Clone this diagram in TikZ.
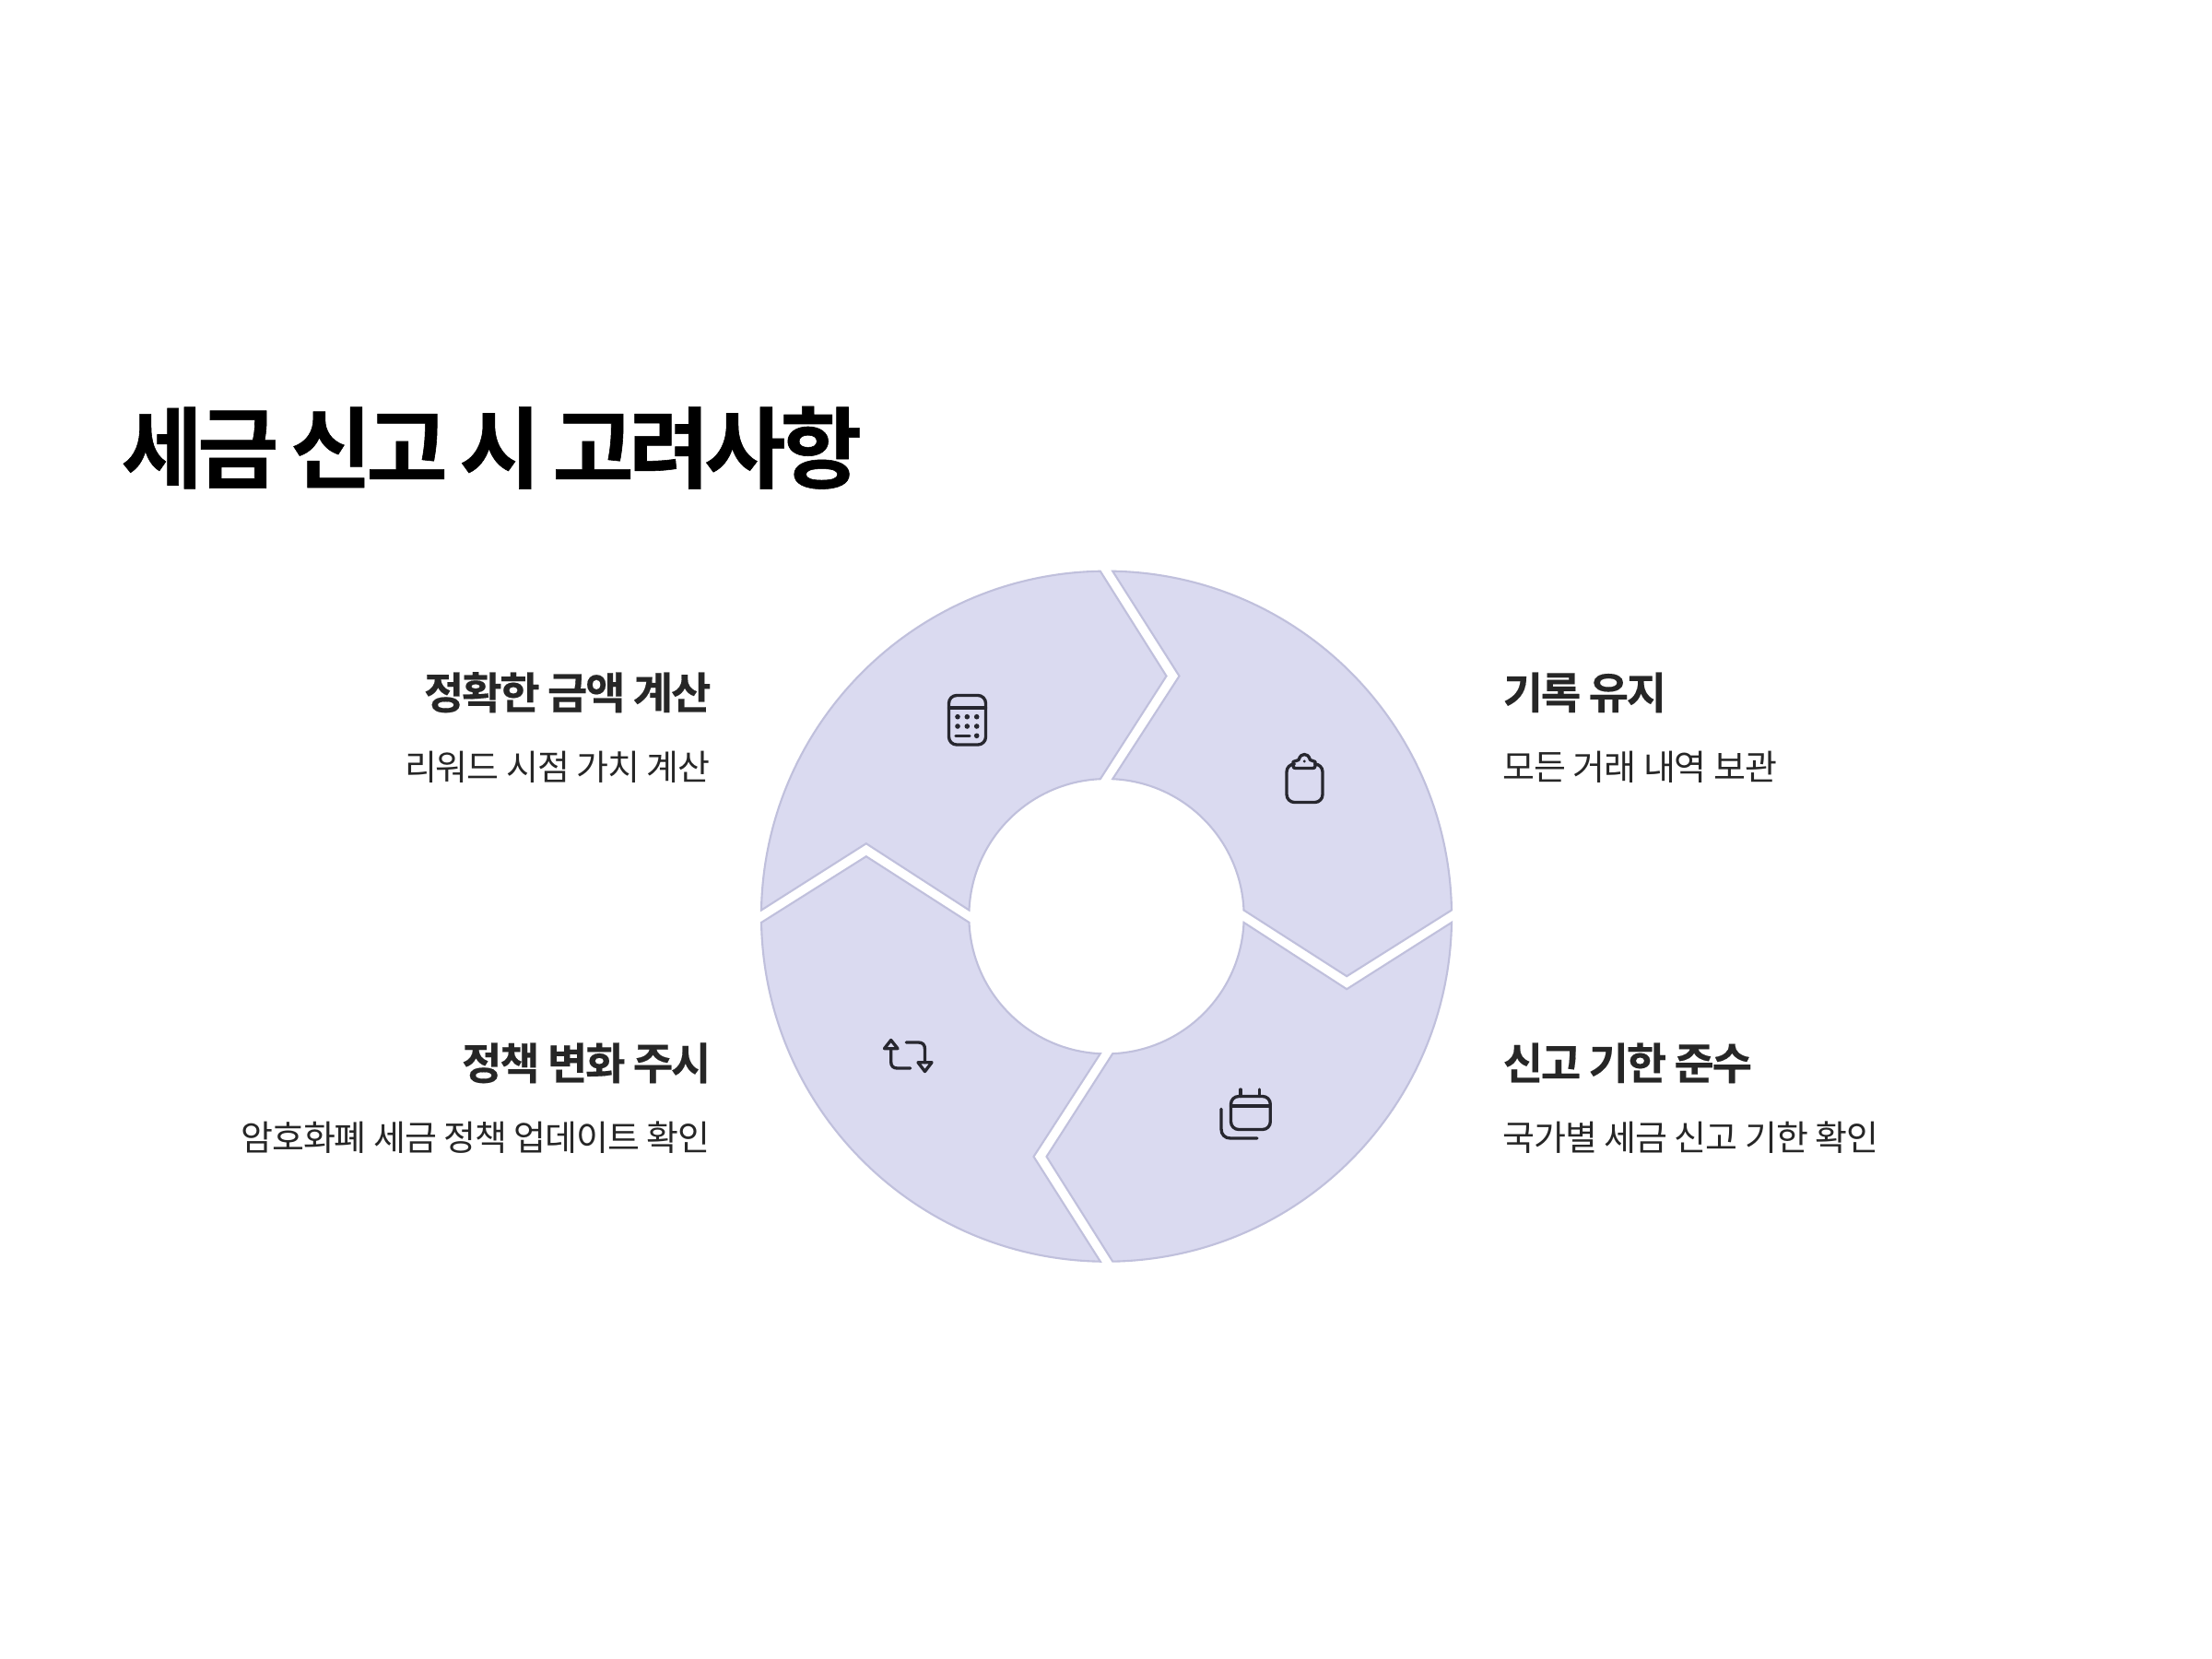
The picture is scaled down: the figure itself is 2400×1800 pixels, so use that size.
\documentclass[tikz,border=0pt]{standalone}
\usepackage{fontspec}
\newfontfamily\krbold[LetterSpace=-6.2,FakeBold=0.6,WordSpace=0.8]{Noto Sans CJK KR Bold}
\newfontfamily\krhead[LetterSpace=-4.8,FakeBold=0.3]{Noto Sans CJK KR Bold}
\newfontfamily\krreg[LetterSpace=-2.9]{Noto Sans CJK KR}
\definecolor{segfill}{HTML}{DADAF0}
\definecolor{segline}{HTML}{C0C0DC}
\definecolor{inkdark}{HTML}{27272F}
\definecolor{headink}{HTML}{262626}
\tikzset{
  segment/.style={fill=segfill,draw=segline,line width=0.6pt,line join=miter},
  icon/.style={draw=inkdark,line width=0.95pt,line cap=round,line join=round},
  icondot/.style={fill=inkdark,draw=none},
  titletext/.style={anchor=base west,inner sep=0pt,font=\krbold\fontsize{27.3pt}{32pt}\selectfont,text=black},
  headtext/.style={inner sep=0pt,font=\krhead\fontsize{13.4pt}{16pt}\selectfont,text=headink},
  desctext/.style={inner sep=0pt,font=\krreg\fontsize{10.8pt}{13pt}\selectfont,text=headink},
}
\begin{document}
\begin{tikzpicture}[x=0.01cm,y=-0.01cm]
\useasboundingbox (0,0) rectangle (2400,1800);
\fill[white] (0,0) rectangle (2400,1800);
\coordinate (c) at (1200.5,994.2);
% four ring segments (pixel offsets from the centre, y upward inside the scope)
\foreach \r in {0,90,180,270}{
\begin{scope}[shift={(c)},rotate=\r,x=0.01cm,y=0.01cm]
\draw[segment] (6.7,374.5) arc[start angle=88.97,end angle=1.03,radius=374.56]
  -- (260.7,-65) -- (149,6.7) arc[start angle=2.57,end angle=87.43,radius=149.15]
  -- (79,260.7) -- cycle;
\end{scope}}
% calculator
\draw[icon,rounded corners=2.4pt] (1029.5,754.5) rectangle (1069.5,808);
\draw[icon] (1029.5,768) -- (1069.5,768);
\foreach \x in {1039,1049.3,1059.7}{\foreach \y in {777.7,788}{\fill[icondot] (\x,\y) circle[radius=2.8];}}
\fill[icondot] (1059.7,798.3) circle[radius=2.8];
\draw[icon] (1037,798.3) -- (1052,798.3);
% clipboard
\draw[icon,rounded corners=2.4pt] (1403,829) -- (1396,829) -- (1396,870.5) -- (1435,870.5) -- (1435,829) -- (1427,829);
\draw[icon] (1403,826.5) -- (1403,831) .. controls (1403,833) and (1404,833.5) .. (1406,833.5) -- (1424,833.5) .. controls (1426,833.5) and (1427,833) .. (1427,831) -- (1427,826.5) -- (1421.5,824.5) .. controls (1420,820) and (1418,818.5) .. (1415.3,818.5) .. controls (1412.5,818.5) and (1410.5,820) .. (1409,824.5) -- cycle;
\fill[icondot] (1415.3,826) circle[radius=1.6];
% calendar
\draw[icon,rounded corners=2.4pt] (1335.5,1189.5) rectangle (1378.3,1225.5);
\draw[icon] (1335.5,1200) -- (1378.3,1200);
\draw[icon] (1346,1182) -- (1346,1189.5);
\draw[icon] (1366.7,1182) -- (1366.7,1189.5);
\draw[icon] (1325,1203.3) -- (1325,1225) .. controls (1325,1231) and (1329,1235) .. (1335,1235) -- (1364,1235);
% repeat arrows
\draw[icon] (966.7,1137.7) -- (966.7,1152) .. controls (966.7,1156.5) and (969,1159) .. (973.5,1159) -- (987.7,1159);
\draw[icon] (966.7,1128.5) -- (959.5,1137.7) -- (974,1137.7) -- cycle;
\draw[icon] (983.3,1131) -- (996.5,1131) .. controls (1001,1131) and (1003.5,1133.5) .. (1003.5,1138.3) -- (1003.5,1152.7);
\draw[icon] (996,1152.7) -- (1011,1152.7) -- (1003.5,1162.5) -- cycle;
% texts
\node[titletext] (title) at (131,522) {세금 신고 시 고려사항};
\node[headtext,anchor=base east] (h1) at (772,769) {정확한 금액 계산};
\node[desctext,anchor=base east] (d1) at (771,846) {리워드 시점 가치 계산};
\node[headtext,anchor=base west] (h2) at (1630,769) {기록 유지};
\node[desctext,anchor=base west] (d2) at (1630,846) {모든 거래 내역 보관};
\node[headtext,anchor=base east] (h3) at (772,1171) {정책 변화 주시};
\node[desctext,anchor=base east] (d3) at (771,1248) {암호화폐 세금 정책 업데이트 확인};
\node[headtext,anchor=base west] (h4) at (1630,1171) {신고 기한 준수};
\node[desctext,anchor=base west] (d4) at (1630,1248) {국가별 세금 신고 기한 확인};
\end{tikzpicture}
\end{document}
